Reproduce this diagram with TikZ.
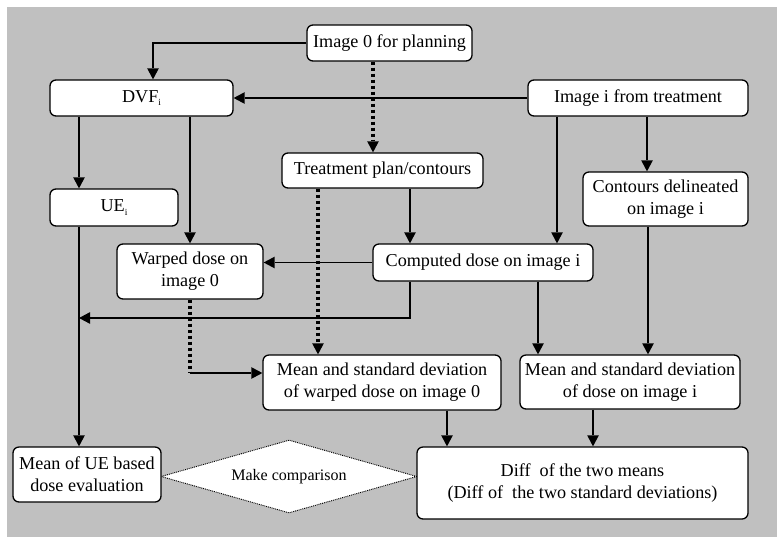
\documentclass[tikz,border=0pt]{standalone}
\usepackage{fontspec}
\setmainfont{Liberation Serif}
\usetikzlibrary{arrows.meta,shapes.geometric}
\definecolor{bg}{HTML}{C0C0C0}
\newcommand{\subi}{\raisebox{-0.45ex}{\fontsize{8}{8}\selectfont i}}

\begin{document}
\begin{tikzpicture}[x=0.3mm,y=-0.3mm]
\tikzset{
	b/.style={draw=black, rounded corners=1.8mm, fill=white, line width=1.1pt, align=center, inner sep=0pt, font=\fontsize{15.5}{19}\selectfont},
	arr/.style={-{Triangle[length=3.3mm,width=3.5mm,line width=0pt]}, line width=1.1pt},
	dt/.style={line width=1mm, dash pattern=on 0.9mm off 0.9mm},
	cmp/.style={diamond, draw=black, fill=white, line width=0.8pt, dash pattern=on 0.8pt off 0.8pt, aspect=3.5, inner sep=0pt, minimum width=76.8mm, minimum height=21.9mm, font=\fontsize{13.7}{16}\selectfont}
}
\useasboundingbox (0,0) rectangle (783,545);

% background
\fill[bg] (7,7) rectangle (777,537);

% comparison
\node[cmp] (cmp) at (289,476.5) {Make comparison};

% top row
\node[b, minimum width=49.5mm, minimum height=10.8mm] (img_0) at (389.5,43) {Image 0 for planning};
\node[b, minimum width=54.9mm, minimum height=10.8mm] (dvf_i) at (141.5,98) {DVF\subi};
\node[b, minimum width=66mm, minimum height=10.8mm] (img_i) at (638,98) {Image i from treatment};

% middle
\node[b, minimum width=60.3mm, minimum height=10.5mm] (plan) at (382.5,170.5) {Treatment plan/contours};
\node[b, minimum width=49.5mm, minimum height=16.2mm] (cont_i) at (665.5,199) {Contours delineated\\on image i};
\node[b, minimum width=38.4mm, minimum height=11.1mm] (ue_i) at (114,207.5) {UE\subi};
\node[b, minimum width=43.8mm, minimum height=16.5mm] (warp_0) at (190,271.5) {Warped dose on\\image 0};
\node[b, minimum width=66mm, minimum height=11.1mm] (dose_i) at (483,262.5) {Computed dose on image i};

% means
\node[b, minimum width=71.4mm, minimum height=16.5mm] (ms_0) at (382,382.5) {Mean and standard deviation\\of warped dose on image 0};
\node[b, minimum width=66mm, minimum height=16.2mm] (ms_i) at (630,382) {Mean and standard deviation\\of dose on image i};
\node[b, minimum width=44.4mm, minimum height=16.5mm] (mean_ue) at (87,474.5) {Mean of UE based\\dose evaluation};
\node[b, minimum width=99.3mm, minimum height=21.6mm] (diff) at (582.5,483) {Diff~ of the two means\\(Diff of~ the two standard deviations)};

% image 0 / image i
\draw[arr] (img_0.west) -| ([xshift=3.45mm]dvf_i.north);
\draw[arr] (img_i.west) -- (dvf_i.east);
\draw[arr, dt] ([xshift=-4.95mm]img_0.south) -- ([xshift=-4.95mm]img_0.south |- plan.north);
\draw[arr] ([xshift=-24.3mm]img_i.south) -- ([xshift=-24.3mm]img_i.south |- dose_i.north);
\draw[arr] ([xshift=2.7mm]img_i.south) -- ([xshift=2.7mm]img_i.south |- cont_i.north);

% DVF
\draw[arr] ([xshift=-10.5mm]ue_i.north |- dvf_i.south) -- ([xshift=-10.5mm]ue_i.north);
\draw[arr] (warp_0.north |- dvf_i.south) -- (warp_0.north);

% plan
\draw[arr, dt] ([xshift=-19.35mm]plan.south) -- ([xshift=-19.35mm]plan.south |- ms_0.north);
\draw[arr] ([xshift=8.25mm]plan.south) -- ([xshift=8.25mm]plan.south |- dose_i.north);

% computed dose
\draw[arr] (dose_i.west) -- (dose_i.west -| warp_0.east);
\coordinate (join) at (79,318);
\draw[arr] ([xshift=-21.9mm]dose_i.south) |- (join);
\draw[arr] ([xshift=16.5mm]dose_i.south) -- ([xshift=16.5mm]dose_i.south |- ms_i.north);
\draw[arr] ([xshift=-5.25mm]cont_i.south) -- ([xshift=-5.25mm]cont_i.south |- ms_i.north);

% UE
\draw[arr] ([xshift=-10.5mm]ue_i.south) -- ([xshift=-10.5mm]ue_i.south |- mean_ue.north);

% warped dose
\coordinate (bend) at (190,373);
\draw[dt] (warp_0.south) -- (bend);
\draw[arr] (bend) -- (bend -| ms_0.west);

% to the difference
\draw[arr] ([xshift=19.5mm]ms_0.south) -- ([xshift=19.5mm]ms_0.south |- diff.north);
\draw[arr] ([xshift=-11.1mm]ms_i.south) -- ([xshift=-11.1mm]ms_i.south |- diff.north);

\end{tikzpicture}
\end{document}
